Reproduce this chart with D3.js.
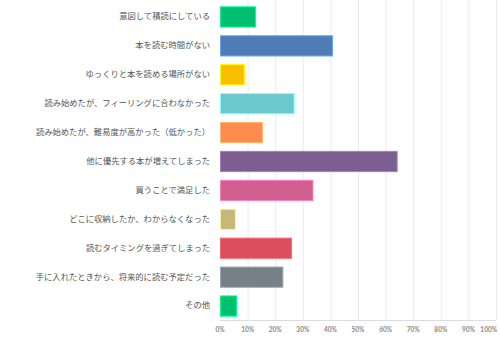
<!DOCTYPE html>
<html lang="ja">
<head>
<meta charset="UTF-8">
<title>chart</title>
<style>
  html, body { margin: 0; padding: 0; background: #fff; }
  svg { display: block; }
</style>
</head>
<body>
<div id="chart"></div>
<script src="https://d3js.org/d3.v7.min.js"></script>
<script>
  // 回答項目と割合（%）
  const labels = [
    '意図して積読にしている',
    '本を読む時間がない',
    'ゆっくりと本を読める場所がない',
    '読み始めたが、フィーリングに合わなかった',
    '読み始めたが、難易度が高かった（低かった）',
    '他に優先する本が増えてしまった',
    '買うことで満足した',
    'どこに収納したか、わからなくなった',
    '読むタイミングを過ぎてしまった',
    '手に入れたときから、将来的に読む予定だった',
    'その他'
  ]
  const values = [12.7, 40.6, 8.6, 26.7, 15.2, 64.0, 33.5, 5.4, 25.7, 22.6, 5.9]
  const colors = ['#00bf6f', '#507cb6', '#f9be00', '#6bc8cd', '#ff8b4f', '#7d5e90',
                  '#d25f90', '#c7b879', '#db4d5c', '#768086', '#00bf6f']
  const ticks = [0, 10, 20, 30, 40, 50, 60, 70, 80, 90, 100]

  const width = 500
  const height = 337
  const margin = { top: 2, right: 4, bottom: 17, left: 220 }

  const svg = d3.select('#chart').append('svg')
    .attr('width', width)
    .attr('height', height)

  const x = d3.scaleLinear()
    .domain([0, 100])
    .range([margin.left, width - margin.right])

  const y = d3.scaleBand()
    .domain(labels)
    .range([margin.top, height - margin.bottom])
    .paddingInner(0.3)
    .paddingOuter(0.15)

  // グリッド線
  svg.append('g')
    .selectAll('line')
    .data(ticks.slice(1))
    .join('line')
    .attr('x1', d => x(d) + 0.5)
    .attr('x2', d => x(d) + 0.5)
    .attr('y1', 0)
    .attr('y2', height - margin.bottom)
    .attr('stroke', '#ececec')

  // 軸線
  svg.append('line')
    .attr('x1', x(0))
    .attr('x2', x(100))
    .attr('y1', height - margin.bottom + 0.5)
    .attr('y2', height - margin.bottom + 0.5)
    .attr('stroke', '#dcdcdc')

  // バー
  svg.append('g')
    .selectAll('rect')
    .data(values)
    .join('rect')
    .attr('x', x(0) + 0.5)
    .attr('y', (_, i) => y(labels[i]) + 0.5)
    .attr('width', d => x(d) - x(0))
    .attr('height', y.bandwidth())
    .attr('fill', (_, i) => colors[i])
    .attr('stroke', (_, i) => d3.color(colors[i]).brighter(0.8))
    .attr('stroke-width', 1)

  // 項目ラベル
  svg.append('g')
    .selectAll('text')
    .data(labels)
    .join('text')
    .attr('x', margin.left - 10)
    .attr('y', d => y(d) + y.bandwidth() / 2)
    .attr('dy', '0.35em')
    .attr('text-anchor', 'end')
    .attr('font-family', '"Noto Sans CJK JP", sans-serif')
    .attr('font-size', 8.3)
    .attr('fill', '#555')
    .text(d => d)

  // 目盛りラベル（100% は右端に寄せる）
  svg.append('g')
    .selectAll('text')
    .data(ticks)
    .join('text')
    .attr('x', d => d === 100 ? x(d) + 1 : x(d))
    .attr('y', height - 5)
    .attr('text-anchor', d => d === 100 ? 'end' : 'middle')
    .attr('font-family', 'Lato, "Open Sans", sans-serif')
    .attr('font-size', 6.5)
    .attr('font-weight', 'bold')
    .attr('fill', '#888')
    .text(d => d + '%')
</script>
</body>
</html>
